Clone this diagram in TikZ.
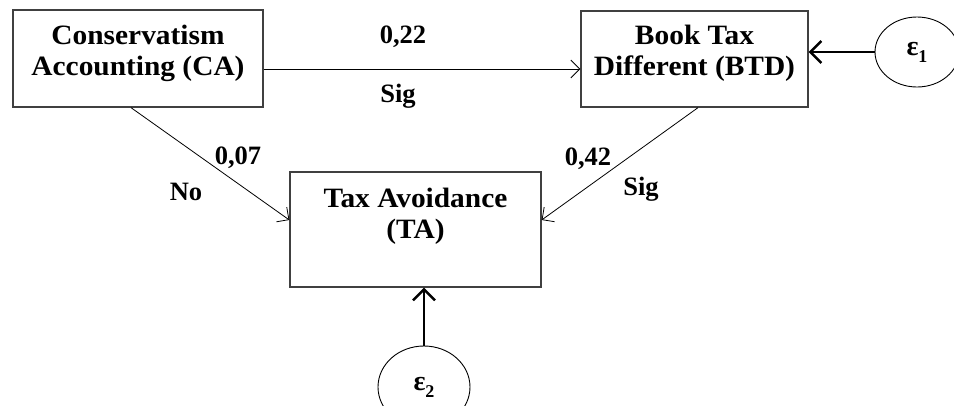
\documentclass[tikz,border=0pt]{standalone}
\usepackage{fontspec}
\setmainfont{Liberation Serif}
\newfontfamily\boxfont{Liberation Serif}[FakeStretch=1.05]
\usetikzlibrary{arrows.meta,shapes.geometric}
\begin{document}
\begin{tikzpicture}[x=1pt,y=-1pt,
  box/.style={draw=black!75, line width=1.3pt, rectangle, inner sep=0pt},
  boxtext/.style={font=\boxfont\bfseries\fontsize{28}{31}\selectfont, align=center, inner sep=0pt},
  lab/.style={font=\bfseries\fontsize{26.5}{30}\selectfont, inner sep=0pt},
  err/.style={draw, ellipse, line width=0.9pt, inner sep=0pt, font=\bfseries\fontsize{28}{30}\selectfont},
  thinarrow/.style={line width=0.8pt, -{Straight Barb[length=9pt,width=18pt,line width=0.8pt]}},
  thickarrow/.style={line width=2.6pt, -{Straight Barb[length=11pt,width=22pt,line width=2.4pt]}}]
\useasboundingbox (0,0) rectangle (954,405);
\clip (0,0) rectangle (954,405);
% boxes
\node[box, minimum width=250pt, minimum height=97pt] (ca) at (138,58.5) {};
\node[boxtext] (catext) at (138,53) {Conservatism\\Accounting (CA)};
\node[box, minimum width=227pt, minimum height=96pt] (btd) at (694.5,59) {};
\node[boxtext] (btdtext) at (694.5,53) {Book Tax\\Different (BTD)};
\node[box, minimum width=251pt, minimum height=115pt] (ta) at (415.5,229.5) {};
\node[boxtext] (tatext) at (415.5,216) {Tax Avoidance\\(TA)};
% error terms
\node[err, minimum width=84pt, minimum height=70pt] (e1) at (917,52) {ε\raisebox{-0.25em}{\fontsize{18}{18}\selectfont 1}};
\node[err, minimum width=92pt, minimum height=82pt] (e2) at (424,387) {ε\raisebox{-0.25em}{\fontsize{18}{18}\selectfont 2}};
% connectors
\coordinate (p1) at ([yshift=-10.5pt]ca.east);
\draw[thinarrow] (p1) -- (p1 -| btd.west);
\draw[thinarrow] ([xshift=-7pt]ca.south) -- ([yshift=9.5pt]ta.west);
\draw[thinarrow] ([xshift=3.5pt]btd.south) -- ([yshift=9.5pt]ta.east);
\draw[thickarrow] (e1.west) -- (e1.west -| btd.east);
\draw[thickarrow] (e2.north) -- (e2.north |- ta.south);
% labels
\node[lab] (l1) at (403,37) {0,22};
\node[lab] (l2) at (398,96) {Sig};
\node[lab] (l3) at (238,158) {0,07};
\node[lab] (l4) at (186,192) {No};
\node[lab] (l5) at (588,159) {0,42};
\node[lab] (l6) at (641,189) {Sig};
\end{tikzpicture}
\end{document}
